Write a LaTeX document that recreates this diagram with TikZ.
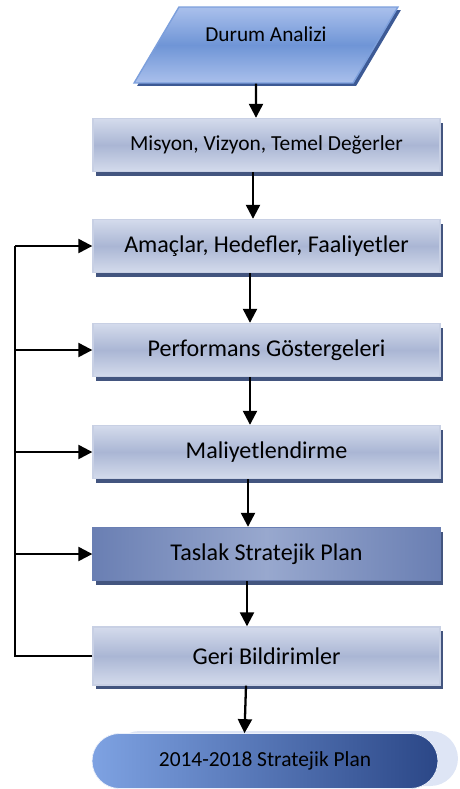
\documentclass[tikz,border=0pt]{standalone}
\usepackage{fontspec}
\setmainfont{Carlito}
\usepackage{tikz}
\usetikzlibrary{shapes, arrows.meta, positioning, calc, shadows}
\definecolor{boxtop}{RGB}{212, 219, 236}
\definecolor{boxmid}{RGB}{170, 182, 212}
\definecolor{boxedge}{RGB}{200, 208, 228}
\definecolor{boxshade}{RGB}{67, 85, 127}
\definecolor{draftout}{RGB}{106, 127, 179}
\definecolor{draftin}{RGB}{152, 168, 206}
\definecolor{inputtop}{RGB}{170, 192, 236}
\definecolor{inputmid}{RGB}{111, 149, 214}
\definecolor{inputedge}{RGB}{124, 159, 220}
\definecolor{inputshade}{RGB}{61, 90, 149}
\definecolor{planlight}{RGB}{126, 162, 226}
\definecolor{plandark}{RGB}{43, 71, 135}
\definecolor{planghost}{RGB}{222, 229, 245}

\begin{document}
\begin{tikzpicture}[x=0.02cm, y=-0.02cm,
  stepbox/.style={draw=boxedge, line width=0.8pt, top color=boxtop, bottom color=boxtop, middle color=boxmid, minimum width=6.94cm, minimum height=1.06cm, font=\fontsize{13.7}{16}\selectfont, general shadow={fill=boxshade, shadow xshift=0.06cm, shadow yshift=-0.08cm}},
  draftbox/.style={stepbox, draw=draftout, left color=draftout, right color=draftout, middle color=draftin},
  inputbox/.style={trapezium, trapezium left angle=55, trapezium right angle=125, trapezium stretches=true, draw=inputedge, line width=0.8pt, top color=inputtop, bottom color=inputtop, middle color=inputmid, minimum width=5.28cm, minimum height=1.52cm, text depth=0.45cm, font=\fontsize{12.1}{14}\selectfont, general shadow={fill=inputshade, shadow xshift=0.06cm, shadow yshift=-0.06cm}},
  planbox/.style={draw=white!85!planlight, rounded corners=0.55cm, left color=planlight, right color=plandark, minimum width=6.92cm, minimum height=1.1cm, font=\fontsize{12.2}{14}\selectfont, general shadow={fill=planghost, shadow xshift=0.4cm, shadow yshift=0.05cm}},
  arr/.style={line width=1.3pt, -{Triangle[length=0.28cm, width=0.28cm]}},
  line/.style={line width=1.3pt}
]
  \useasboundingbox (0, 0) rectangle (460, 789);

  % flow of the plan
  \node[inputbox] (durum) at (266, 45) {Durum Analizi};
  \node[stepbox, font=\fontsize{12.2}{14}\selectfont] (misyon) at (266.5, 145) {Misyon, Vizyon, Temel Değerler};
  \node[stepbox] (amac) at (266.5, 246) {Amaçlar, Hedefler, Faaliyetler};
  \node[stepbox] (perf) at (266.5, 350) {Performans Göstergeleri};
  \node[stepbox] (maliyet) at (266.5, 452) {Maliyetlendirme};
  \node[draftbox] (taslak) at (266.5, 554) {Taslak Stratejik Plan};
  \node[stepbox, minimum height=1.16cm] (geri) at (266.5, 656) {Geri Bildirimler};
  \node[planbox] (plan) at (265, 761) {2014-2018 Stratejik Plan};

  \draw[arr] ([xshift=-0.2cm]durum.south) -- ([xshift=-0.21cm]misyon.north);
  \draw[arr] ([xshift=-0.27cm]misyon.south) -- ([xshift=-0.27cm]amac.north);
  \draw[arr] ([xshift=-0.33cm]amac.south) -- ([xshift=-0.33cm]perf.north);
  \draw[arr] ([xshift=-0.33cm]perf.south) -- ([xshift=-0.33cm]maliyet.north);
  \draw[arr] ([xshift=-0.37cm]maliyet.south) -- ([xshift=-0.37cm]taslak.north);
  \draw[arr] ([xshift=-0.39cm]taslak.south) -- ([xshift=-0.39cm]geri.north);
  \draw[arr] ([xshift=-0.41cm]geri.south) -- ([xshift=-0.41cm]plan.north);

  % feedback loop
  \coordinate (fbtop) at (15, 246);
  \coordinate (fbbot) at (15, 656);
  \draw[line] (geri.west) -- (fbbot) -- (fbtop);
  \draw[arr] (fbtop) -- (amac.west);
  \draw[arr] (fbtop |- perf.west) -- (perf.west);
  \draw[arr] (fbtop |- maliyet.west) -- (maliyet.west);
  \draw[arr] (fbtop |- taslak.west) -- (taslak.west);
\end{tikzpicture}
\end{document}
